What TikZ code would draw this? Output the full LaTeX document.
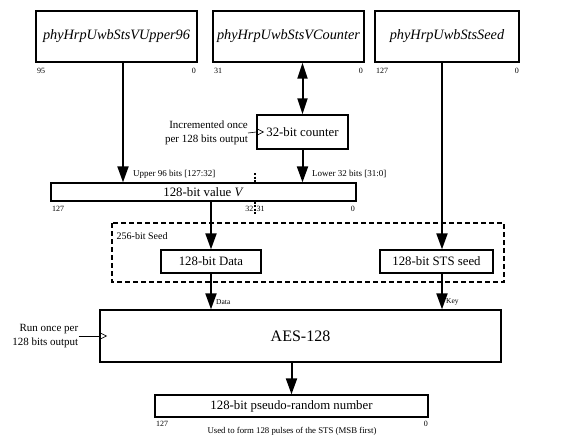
\documentclass[tikz,border=0pt]{standalone}
\usepackage{fontspec}
\setmainfont{Liberation Serif}
\usetikzlibrary{arrows.meta}
\begin{document}
\begin{tikzpicture}[x=1pt,y=-1pt,
  box/.style={draw,line width=1.3pt,inner sep=0pt,anchor=center},
  arr/.style={line width=2pt,-{Triangle[length=16pt,width=11pt]}},
  darr/.style={line width=2pt,{Triangle[length=16pt,width=10pt]}-{Triangle[length=16pt,width=10pt]}},
  bitlbl/.style={font=\fontsize{8}{9}\selectfont,inner sep=0pt},
  edgelbl/.style={font=\fontsize{9}{10}\selectfont,inner sep=0pt,anchor=west},
  note/.style={font=\fontsize{11}{14}\selectfont,inner sep=0pt,align=right,anchor=east},
  clk/.style={line width=0.6pt},
  title/.style={font=\fontsize{14.3}{16}\selectfont\itshape},
  body/.style={font=\fontsize{12.8}{15}\selectfont}
]
\useasboundingbox (0,0) rectangle (562,440);

% top register boxes
\node[box,title,minimum width=161pt,minimum height=51pt] (b1) at (116.5,36.5) {phyHrpUwbStsVUpper96};
\node[box,title,minimum width=151pt,minimum height=51pt] (b2) at (288.5,36.5) {phyHrpUwbStsVCounter};
\node[box,title,minimum width=144pt,minimum height=51pt] (b3) at (447,36.5) {phyHrpUwbStsSeed};

\node[bitlbl,anchor=west] (b1l) at (37,71) {95};
\node[bitlbl,anchor=east] (b1r) at (196,71) {0};
\node[bitlbl,anchor=west] (b2l) at (214,71) {31};
\node[bitlbl,anchor=east] (b2r) at (363,71) {0};
\node[bitlbl,anchor=west] (b3l) at (376,71) {127};
\node[bitlbl,anchor=east] (b3r) at (519,71) {0};

% counter
\node[box,body,minimum width=91pt,minimum height=34pt] (ctr) at (302.5,132) {32-bit counter};
\node[note] (inc) at (248,133) {Incremented once\\per 128 bits output};
\draw[clk] (inc.east) -- (ctr.west);
\draw[clk] ([yshift=-3.5pt]ctr.west) -- ([xshift=7pt]ctr.west) -- ([yshift=3.5pt]ctr.west);

% value V
\node[box,body,minimum width=305pt,minimum height=18pt] (v) at (203.5,192) {128-bit value \textit{V}};
\node[edgelbl] (up) at (133,174) {Upper 96 bits [127:32]};
\node[edgelbl] (lo) at (312,174) {Lower 32 bits [31:0]};
\coordinate (divt) at (255,173);
\coordinate (divb) at (255,215);
\draw[line width=1.2pt,dash pattern=on 2pt off 1.5pt] (divt) -- (divt |- v.north);
\draw[line width=1.2pt,dash pattern=on 2pt off 1.5pt] (divt |- v.south) -- (divb);
\node[bitlbl,anchor=west] (vl) at (52,209) {127};
\node[bitlbl,anchor=east] (v32) at (253.5,209) {32};
\node[bitlbl,anchor=west] (v31) at (256.5,209) {31};
\node[bitlbl,anchor=east] (vr) at (355,209) {0};

% seed group
\draw[line width=1.2pt,dash pattern=on 5pt off 3pt] (112,223) rectangle (504,282);
\node[font=\fontsize{10}{12}\selectfont,inner sep=0pt,anchor=west] (seedlbl) at (116.5,236) {256-bit Seed};
\node[box,body,minimum width=100pt,minimum height=23pt] (data) at (211,261.5) {128-bit Data};
\node[box,body,minimum width=113pt,minimum height=23pt] (sts) at (436.5,261.5) {128-bit STS seed};

% AES
\node[box,font=\fontsize{16}{19}\selectfont,minimum width=401pt,minimum height=52pt] (aes) at (300.5,336) {AES-128};
\node[edgelbl,font=\fontsize{7.5}{9}\selectfont] (datal) at (216,302) {Data};
\node[edgelbl,font=\fontsize{7.5}{9}\selectfont] (keyl) at (446,302) {Key};
\node[note] (run) at (78.5,336) {Run once per\\128 bits output};
\draw[clk] (run.east) -- (aes.west);
\draw[clk] ([yshift=-3.5pt]aes.west) -- ([xshift=7pt]aes.west) -- ([yshift=3.5pt]aes.west);

% output
\node[box,body,minimum width=273pt,minimum height=22pt] (prn) at (291.5,406) {128-bit pseudo-random number};
\node[bitlbl,anchor=west] (pl) at (156,424) {127};
\node[bitlbl,anchor=east] (pr) at (428,424) {0};
\node[bitlbl,font=\fontsize{8.8}{10}\selectfont] (used) at (292,431) {Used to form 128 pulses of the STS (MSB first)};

% connectors
\coordinate (x1) at (123,0);
\coordinate (x3) at (442,0);
\draw[arr] (b1.south -| x1) -- (v.north -| x1);
\draw[darr] (b2.south -| ctr.north) -- (ctr.north);
\draw[arr] (ctr.south) -- (v.north -| ctr.south);
\draw[arr] (v.south -| data.north) -- (data.north);
\draw[arr] (b3.south -| x3) -- (sts.north -| x3);
\draw[arr] (data.south) -- (aes.north -| data.south);
\draw[arr] (sts.south -| x3) -- (aes.north -| x3);
\draw[arr] (aes.south -| prn.north) -- (prn.north);
\end{tikzpicture}
\end{document}
